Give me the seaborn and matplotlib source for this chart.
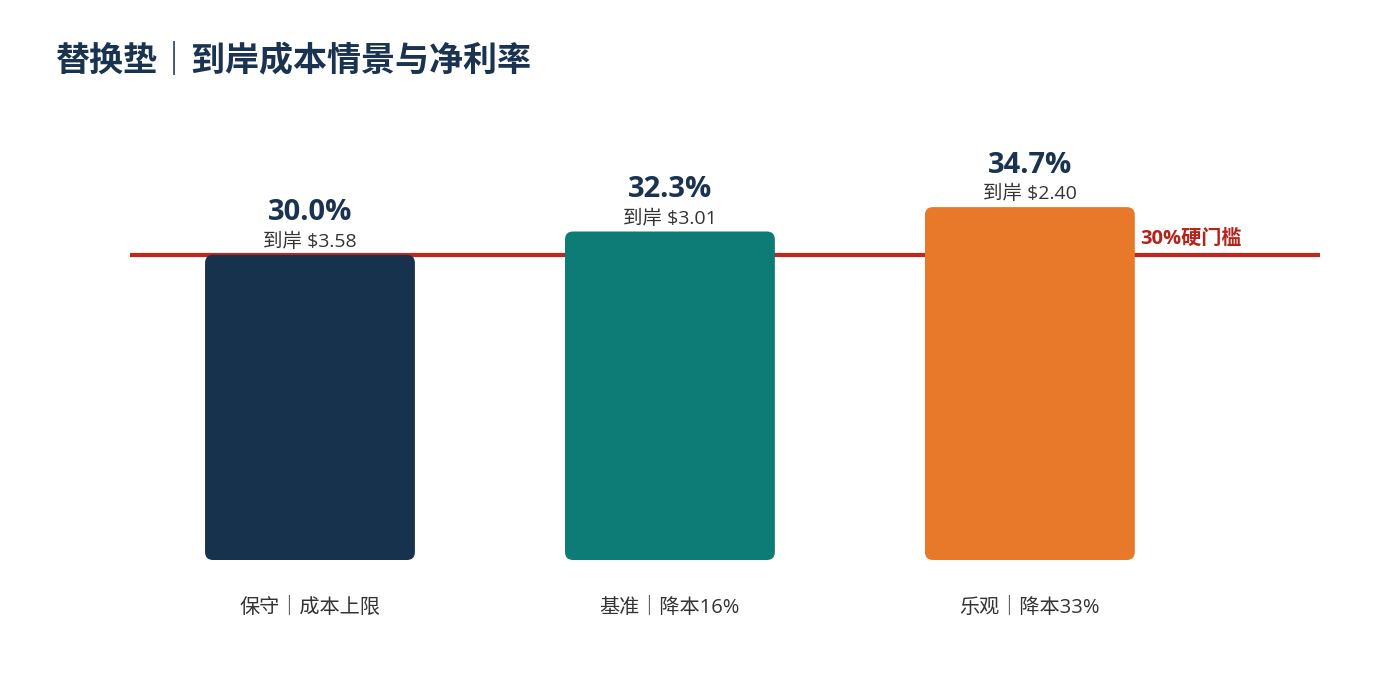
import matplotlib
matplotlib.use("Agg")
import matplotlib.pyplot as plt
import seaborn as sns
import pandas as pd
from matplotlib.patches import FancyBboxPatch

categories = ["保守｜成本上限", "基准｜降本16%", "乐观｜降本33%"]
margins = [30.0, 32.3, 34.7]
landed = ["$3.58", "$3.01", "$2.40"]
colors = ["#17324d", "#0d7b76", "#e8792b"]
threshold = 30.0
threshold_label = "30%硬门槛"
title = "替换垫｜到岸成本情景与净利率"

sns.set_theme(style="white")
FAM = ["Open Sans", "Noto Sans CJK SC", "DejaVu Sans"]
plt.rcParams["font.family"] = FAM

fig = plt.figure(figsize=(14, 6.8), dpi=100)
ax = fig.add_axes([130 / 1400, 1 - 560 / 680, 1190 / 1400, 406.8 / 680])

df = pd.DataFrame({"cat": categories, "m": margins})
sns.barplot(data=df, x="cat", y="m", hue="cat", palette=colors, width=0.583,
            saturation=1, legend=False, ax=ax, zorder=3)

ax.set_ylim(0, 40)
ax.set_xlim(-0.5, 2.806)
ax.axhline(threshold, color="#c0261d", lw=3, zorder=2)

# replace bars with rounded ones
px_x = 1190 / 3.306
px_y = 406.8 / 40
r = 8 / px_x
for p in list(ax.patches):
    x, y = p.get_x(), p.get_y()
    w, h = p.get_width(), p.get_height()
    fc = p.get_facecolor()
    p.remove()
    fb = FancyBboxPatch((x, y), w, h,
                        boxstyle=f"round,pad=0,rounding_size={r}",
                        mutation_aspect=px_x / px_y,
                        facecolor=fc, edgecolor="none", zorder=3)
    ax.add_patch(fb)

for i, (m, l) in enumerate(zip(margins, landed)):
    ax.annotate(f"{m:.1f}%", (i, m), xytext=(0, 42), textcoords="offset pixels",
                ha="center", va="center", fontsize=21, fontweight="bold",
                color="#1a3350")
    ax.annotate(f"到岸 {l}", (i, m), xytext=(0, 13), textcoords="offset pixels",
                ha="center", va="center", fontsize=14, color="#333333")

ax.text(2.0 + 0.583 / 2 + 0.015, threshold + 0.6, threshold_label,
        ha="left", va="bottom", fontsize=14.5, fontweight="bold", color="#b3241b")

ax.set_xticks(range(len(categories)))
ax.set_xticklabels(categories, fontsize=14.5, color="#333333")
ax.tick_params(axis="x", length=0, pad=27)
ax.set_yticks([])
ax.set_xlabel("")
ax.set_ylabel("")
for s in ax.spines.values():
    s.set_visible(False)

fig.text(55 / 1400, 1 - 62 / 680, title, fontsize=24.5, fontweight="bold",
         color="#1a3350", ha="left", va="center")

fig.savefig("out.png", dpi=100, facecolor="white")
